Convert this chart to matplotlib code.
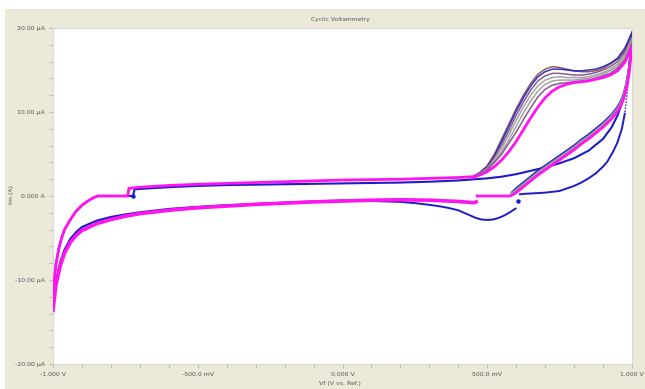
import numpy as np
import matplotlib
matplotlib.use("Agg")
import matplotlib.pyplot as plt
from matplotlib.patches import Rectangle

# ---- data (V in volts, I in microamps) ----

# forward sweep, shared left part (-1 V -> 0.45 V), later cycles
FWD_V = [-1.0, -0.995, -0.99, -0.98, -0.97, -0.96, -0.94, -0.92, -0.9, -0.88,
         -0.86, -0.845, -0.8, -0.742, -0.738, -0.7, -0.6, -0.5, -0.4, -0.3,
         -0.2, -0.1, 0.0, 0.1, 0.2, 0.3, 0.4, 0.45]
FWD_I = [-11.8, -9.8, -8.2, -6.3, -5.0, -4.0, -2.8, -1.8, -1.1, -0.6,
         -0.2, 0.0, 0.0, 0.0, 0.9, 1.05, 1.25, 1.4, 1.5, 1.6,
         1.7, 1.8, 1.9, 1.95, 2.0, 2.1, 2.2, 2.3]

# oxidation peak region of the forward sweeps, one list per cycle
PEAK_V = [0.450, 0.475, 0.500, 0.525, 0.550, 0.575, 0.600, 0.625, 0.650, 0.675,
          0.700, 0.725, 0.750, 0.775, 0.800, 0.825, 0.850, 0.875, 0.900, 0.925,
          0.950, 0.975, 1.000]
cycle2_I = [2.3, 2.8, 3.6, 5.0, 6.8, 8.6, 10.4, 12.0, 13.4, 14.5,
            15.1, 15.4, 15.3, 15.1, 14.9, 14.8, 14.8, 14.9, 15.2, 15.7,
            16.3, 17.3, 19.6]
cycle3_I = [2.3, 2.8, 3.5, 4.8, 6.5, 8.3, 10.1, 11.7, 13.1, 14.2,
            14.8, 15.1, 15.1, 15.0, 14.9, 14.9, 15.0, 15.1, 15.4, 15.8,
            16.4, 17.6, 19.4]
cycle4_I = [2.3, 2.7, 3.4, 4.6, 6.1, 7.8, 9.6, 11.2, 12.6, 13.7,
            14.3, 14.6, 14.6, 14.5, 14.4, 14.4, 14.5, 14.7, 15.0, 15.4,
            16.0, 17.1, 19.0]
cycle5_I = [2.3, 2.7, 3.3, 4.4, 5.7, 7.3, 9.0, 10.6, 12.0, 13.1,
            13.8, 14.1, 14.2, 14.1, 14.1, 14.1, 14.2, 14.4, 14.7, 15.1,
            15.7, 16.8, 18.7]
cycle6_I = [2.2, 2.6, 3.2, 4.1, 5.3, 6.7, 8.3, 9.9, 11.3, 12.5,
            13.3, 13.7, 13.8, 13.8, 13.8, 13.9, 14.0, 14.2, 14.5, 14.9,
            15.4, 16.5, 18.4]
cycle7_I = [2.2, 2.6, 3.1, 4.0, 5.0, 6.3, 7.6, 9.1, 10.5, 11.8,
            12.7, 13.2, 13.4, 13.5, 13.6, 13.7, 13.8, 14.0, 14.3, 14.6,
            15.2, 16.2, 18.1]
cycle8_I = [2.2, 2.5, 2.9, 3.5, 4.3, 5.3, 6.5, 7.9, 9.3, 10.6,
            11.7, 12.5, 13.0, 13.3, 13.5, 13.6, 13.7, 13.9, 14.1, 14.4,
            14.9, 15.9, 17.8]

# reverse sweep of the later cycles (1 V -> 0.46 V)
REV_V = [1.0, 0.995, 0.99, 0.98, 0.97, 0.96, 0.95, 0.93, 0.9, 0.875, 0.85,
         0.825, 0.8, 0.775, 0.75, 0.725, 0.7, 0.675, 0.65, 0.625, 0.6, 0.585,
         0.578, 0.465]
REV_I_DARK = [19.0, 17.0, 15.3, 13.3, 12.0, 11.2, 10.6, 9.7, 8.7, 8.0, 7.3,
              6.7, 6.0, 5.4, 4.8, 4.2, 3.6, 3.0, 2.3, 1.6, 0.9, 0.4,
              0.0, 0.0]
REV_I_GREY = [18.6, 16.7, 15.0, 13.1, 11.8, 11.0, 10.4, 9.5, 8.5, 7.8, 7.1,
              6.5, 5.8, 5.2, 4.6, 4.0, 3.4, 2.8, 2.1, 1.4, 0.7, 0.3,
              0.0, 0.0]
REV_I_PINK = [17.8, 16.2, 14.6, 12.7, 11.5, 10.7, 10.1, 9.2, 8.2, 7.5, 6.8,
              6.2, 5.5, 4.9, 4.3, 3.7, 3.1, 2.5, 1.8, 1.1, 0.4, 0.1,
              0.0, 0.0]

# lower (cathodic) branch, 0.46 V -> -1 V
LOW_V = [0.462, 0.455, 0.4, 0.3, 0.2, 0.1, 0.0, -0.1, -0.2, -0.3, -0.4, -0.5,
         -0.6, -0.65, -0.7, -0.75, -0.8, -0.85, -0.9, -0.92, -0.94, -0.96,
         -0.975, -0.99, -1.0]
LOW_I_PINK = [-0.7, -0.8, -0.65, -0.5, -0.45, -0.5, -0.6, -0.7, -0.85, -1.0,
              -1.2, -1.4, -1.7, -1.9, -2.1, -2.4, -2.8, -3.3, -4.1, -4.7,
              -5.5, -6.8, -8.3, -10.6, -13.6]
LOW_I_BLUE = [-0.6, -0.6, -0.6, -0.5, -0.45, -0.45, -0.55, -0.65, -0.8, -0.95,
              -1.1, -1.3, -1.55, -1.75, -1.95, -2.2, -2.5, -2.95, -3.7, -4.3,
              -5.1, -6.4, -7.9, -10.2, -13.2]

# first cycle (blue): forward sweep without the peak
B1F_V = [-1.0, -0.995, -0.99, -0.98, -0.97, -0.96, -0.94, -0.92, -0.9, -0.88,
         -0.86, -0.845, -0.8, -0.724, -0.718, -0.6, -0.5, -0.4, -0.3, -0.2,
         -0.1, 0.0, 0.1, 0.2, 0.3, 0.4, 0.5, 0.55, 0.6, 0.65, 0.7, 0.75, 0.8,
         0.85, 0.9, 0.93, 0.95, 0.97, 0.985, 1.0]
B1F_I = [-11.6, -9.7, -8.1, -6.2, -4.9, -4.0, -2.8, -1.8, -1.1, -0.6,
         -0.2, 0.0, 0.0, 0.0, 0.8, 1.05, 1.2, 1.3, 1.35, 1.4,
         1.45, 1.5, 1.55, 1.6, 1.7, 1.85, 2.1, 2.3, 2.6, 3.0, 3.4, 3.9, 4.5,
         5.4, 6.8, 8.2, 9.6, 11.5, 13.8, 18.5]

# first cycle (blue): reverse sweep, upper part and reduction dip
B1R_V = [1.0, 0.995, 0.99, 0.985, 0.98, 0.975, 0.965, 0.95, 0.935, 0.915,
         0.9, 0.875, 0.85, 0.825, 0.8, 0.775, 0.75, 0.725, 0.7, 0.675, 0.65,
         0.625, 0.613]
B1R_I = [18.5, 16.5, 14.5, 12.8, 11.3, 9.8, 8.0, 6.4, 5.3, 4.1,
         3.5, 2.7, 2.1, 1.6, 1.2, 0.9, 0.6, 0.5, 0.4, 0.35, 0.3,
         0.25, 0.2]
B1_DOT_V = [0.605, -0.724]
B1_DOT_I = [-0.6, 0.0]
B1D_V = [0.598, 0.58, 0.56, 0.54, 0.52, 0.50, 0.48, 0.46, 0.44, 0.42, 0.40,
         0.37, 0.34, 0.3, 0.25, 0.2, 0.1, 0.0]
B1D_I = [-1.5, -1.9, -2.3, -2.6, -2.8, -2.85, -2.8, -2.6, -2.3, -2.0, -1.7,
         -1.45, -1.25, -1.05, -0.85, -0.7, -0.6, -0.55]

X_TICKS = [-1.0, -0.5, 0.0, 0.5, 1.0]
X_LABELS = ["-1.000 V", "-500.0 mV", "0.000 V", "500.0 mV", "1.000 V"]
Y_TICKS = [-20, -10, 0, 10, 20]
Y_LABELS = ["-20.00 \u00b5A", "-10.00 \u00b5A", "0.000 A", "10.00 \u00b5A", "20.00 \u00b5A"]

BLUE = "#1c1cc8"
PINK = "#ff14f0"
GREY = "#9a9a9a"
BROWN = "#8c4a4a"
PURPLE = "#7a4a82"
BG = "#ece9d8"
TXT = "#555555"

fig = plt.figure(figsize=(6.45, 3.89), dpi=100)
fig.patch.set_facecolor("white")
fig.patches.append(Rectangle((5 / 645, 0), 1, 1 - 9 / 389, transform=fig.transFigure,
                             facecolor=BG, edgecolor="none", zorder=-10))

ax = fig.add_axes([53 / 645, 25 / 389, 579 / 645, 336 / 389])
ax.set_facecolor("white")

# blue first cycle underneath
ax.plot(LOW_V[6:], LOW_I_BLUE[6:], color=BLUE, lw=1.6, zorder=2)
ax.plot(B1F_V, B1F_I, color=BLUE, lw=1.5, zorder=2)
ax.plot(B1R_V[:6], B1R_I[:6], color=BLUE, lw=1.0, ls=(0, (1, 1.2)), zorder=2)
ax.plot(B1R_V[5:], B1R_I[5:], color=BLUE, lw=1.4, zorder=2)
ax.plot(B1D_V, B1D_I, color=BLUE, lw=1.4, zorder=2)
ax.plot(B1_DOT_V, B1_DOT_I, "o", color=BLUE, ms=2.2, zorder=2)

# later cycles: reverse band and peaks
ax.plot(REV_V[:-2], REV_I_DARK[:-2], color=BLUE, lw=1.6, zorder=3)
ax.plot(REV_V[:-2], REV_I_GREY[:-2], color=GREY, lw=1.8, zorder=3)
cycles = [(cycle2_I, BROWN), (cycle3_I, BLUE), (cycle4_I, PURPLE),
          (cycle5_I, GREY), (cycle6_I, GREY), (cycle7_I, PURPLE)]
for vals, col in cycles:
    ax.plot(PEAK_V, vals, color=col, lw=1.1, alpha=0.9, zorder=3)

# last cycle (magenta) on top
ax.plot(FWD_V, FWD_I, color=PINK, lw=2.0, zorder=4)
ax.plot(PEAK_V, cycle8_I, color=PINK, lw=2.0, zorder=4)
ax.plot(REV_V, REV_I_PINK, color=PINK, lw=2.0, zorder=4)
ax.plot(LOW_V, LOW_I_PINK, color=PINK, lw=2.6, zorder=4)

ax.set_xlim(-1.0, 1.0)
ax.set_ylim(-20, 20)
ax.set_xticks(X_TICKS)
ax.set_xticklabels(X_LABELS)
ax.set_yticks(Y_TICKS)
ax.set_yticklabels(Y_LABELS)
ax.set_xticks(np.arange(-1.0, 1.01, 0.1), minor=True)
ax.set_yticks(np.arange(-20, 21, 2), minor=True)
ax.tick_params(which="both", direction="out", length=3, width=0.6, color="#b0b0b0",
               labelsize=4.5, labelcolor=TXT, pad=3)
for s in ax.spines.values():
    s.set_color("#d8d8d8")
    s.set_linewidth(0.8)

fig.text(340 / 645, 1 - 19 / 389, "Cyclic Voltammetry", fontsize=4.3, color=TXT,
         ha="center", va="center")
fig.text(340 / 645, 1 - 383 / 389, "Vf (V vs. Ref.)", fontsize=4.5, color=TXT,
         ha="center", va="center")
fig.text(12 / 645, 1 - 195 / 389, "Im (A)", fontsize=4.5, color=TXT,
         ha="center", va="center", rotation=90)

fig.savefig("out.png", dpi=100, facecolor=fig.get_facecolor())
